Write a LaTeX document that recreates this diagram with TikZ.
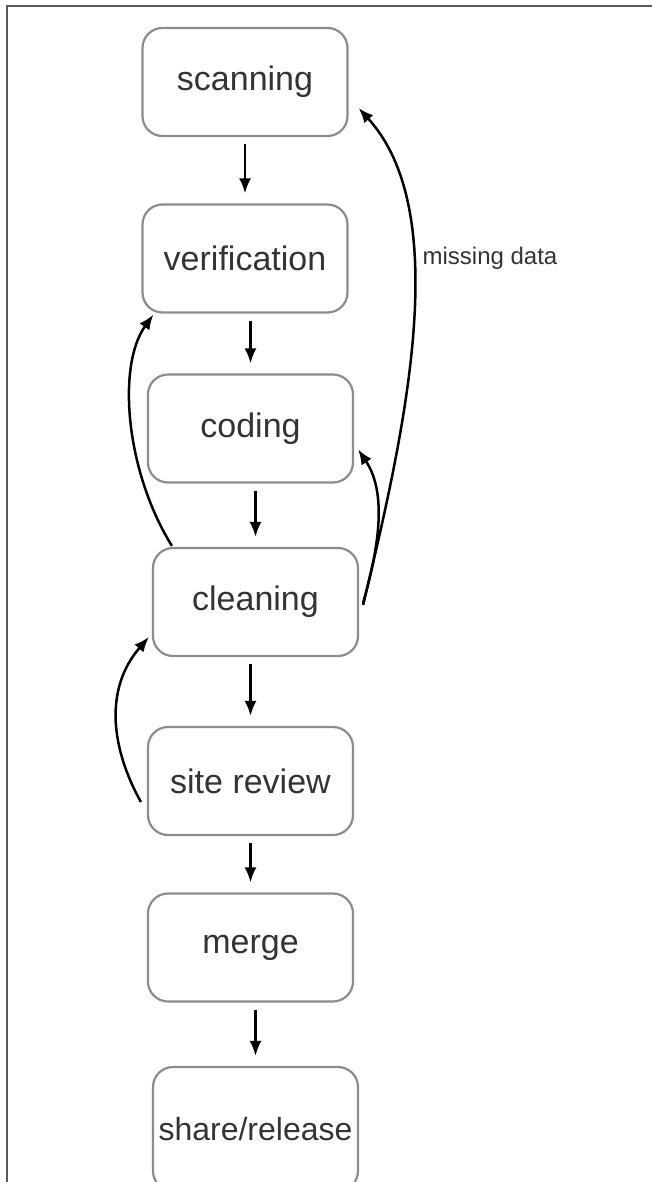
\documentclass[tikz,border=0pt]{standalone}
\usepackage{fontspec}
\setmainfont{Liberation Sans}
\usetikzlibrary{arrows.meta}
\begin{document}
\begin{tikzpicture}[x=1pt, y=-1pt,
	box/.style={draw=black!45, line width=2.2pt, rounded corners=20pt, inner xsep=1pt, minimum width=205pt, minimum height=108pt, text=black!80, font=\fontsize{34}{40}\selectfont},
	flow/.style={line width=2.5pt, -{Latex[length=15pt,width=12pt]}, shorten <=7pt, shorten >=10pt},
	back/.style={line width=2.5pt, -{Latex[length=15pt,width=12pt]}}]
	\useasboundingbox (0,0) rectangle (652,1182);
	\draw[line width=2pt, black!65] (652,6) -- (7,6) -- (7,1182);
	\node[box] (v1) at (245, 82) {scanning};
	\node[box] (v2) at (245, 258.5) {verification};
	\node[box] (v3) at (250.5, 428.5) {coding};
	\node[box] (v4) at (255.5, 602) {cleaning};
	\node[box] (v5) at (250.5, 781) {site review};
	\node[box] (v6) at (250.5, 947.5) {merge};
	\node[box, minimum height=124pt, font=\fontsize{32}{38}\selectfont] (v7) at (255.5, 1129) {share/release};
	\node[text=black!80, font=\fontsize{24}{28}\selectfont] (m) at (490, 258) {missing data};
	 \draw[flow] (v1.south -| v2.north) -- (v2.north);
	 \draw[flow] (v2.south -| v3.north) -- (v3.north);
	 \draw[flow] (v3.south -| v4.north) -- (v4.north);
	 \draw[flow] (v4.south -| v5.north) -- (v5.north);
	 \draw[flow] (v5.south -| v6.north) -- (v6.north);
	 \draw[flow] (v6.south -| v7.north) -- (v7.north);
	 \draw[back] ([xshift=20pt,yshift=1pt]v4.north west) .. controls (125,470) and (117,365) .. ([xshift=12pt,yshift=-1pt]v2.south west);
	 \draw[back] ([xshift=4pt,yshift=-1pt]v4.east) .. controls (375,560) and (390,497) .. ([xshift=4pt,yshift=-21pt]v3.east);
	 \draw[back] ([xshift=4pt,yshift=-3pt]v4.east) .. controls (405,430) and (454,213) .. ([xshift=10pt,yshift=-26pt]v1.east);
	 \draw[back] ([xshift=-6pt,yshift=-21pt]v5.west) .. controls (112,750) and (103,690) .. ([xshift=-3pt,yshift=-35pt]v4.west);
        \end{tikzpicture}
\end{document}
